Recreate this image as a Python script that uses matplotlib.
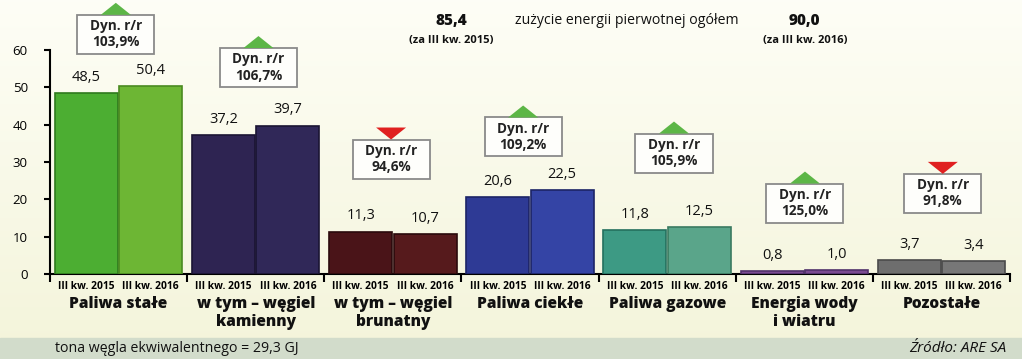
import matplotlib
matplotlib.use("Agg")
import matplotlib.pyplot as plt
import numpy as np
from matplotlib.patches import Rectangle, Polygon

plt.rcParams["font.family"] = ["Open Sans", "DejaVu Sans"]

categories = ["Paliwa stałe", "w tym – węgiel\nkamienny", "w tym – węgiel\nbrunatny",
              "Paliwa ciekłe", "Paliwa gazowe", "Energia wody\ni wiatru", "Pozostałe"]
periods = ["III kw. 2015", "III kw. 2016"]
v2015 = [48.5, 37.2, 11.3, 20.6, 11.8, 0.8, 3.7]
v2016 = [50.4, 39.7, 10.7, 22.5, 12.5, 1.0, 3.4]
dyn = [103.9, 106.7, 94.6, 109.2, 105.9, 125.0, 91.8]
total_2015 = 85.4
total_2016 = 90.0

colors_2015 = ["#4cae32", "#2e2452", "#4a1418", "#2e3a95", "#3d9a84", "#7a4a90", "#6e6e6e"]
colors_2016 = ["#6db634", "#302858", "#561a1c", "#3444a5", "#5aa58a", "#7a4a90", "#777777"]
edge_2015 = ["#2f7a1e", "#1a1433", "#2a0a0c", "#1c2466", "#24705e", "#50306a", "#4a4a4a"]
edge_2016 = ["#4a8a20", "#1a1433", "#2a0a0c", "#1c2466", "#3a7a60", "#50306a", "#4a4a4a"]

# box layout (data coords): x offset from group centre, y centre
box_dx = [-0.02, 0.02, -0.013, -0.05, 0.05, 0.005, 0.01]
box_y = [64.2, 55.3, 30.8, 36.7, 32.4, 19.0, 21.6]

W, H = 1022, 359
fig = plt.figure(figsize=(W / 100, H / 100), dpi=100)

# background gradient + bottom band
bg = fig.add_axes([0, 0, 1, 1], zorder=-10)
grad = np.linspace(0, 1, 256)[:, None]
top = np.array([0.995, 0.995, 0.965])
bot = np.array([0.955, 0.958, 0.855])
img = top[None, None, :] * (1 - grad[..., None]) + bot[None, None, :] * grad[..., None]
bg.imshow(img, aspect="auto", extent=[0, 1, 0, 1])
bg.add_patch(Rectangle((0, 0), 1, 21 / H, color="#d2dccb", zorder=2))
bg.set_xlim(0, 1)
bg.set_ylim(0, 1)
bg.axis("off")

ax = fig.add_axes([50 / W, (H - 274) / H, 960 / W, 224 / H])
ax.patch.set_alpha(0)

n = len(categories)
x = np.arange(n)
bw = 0.46
ax.bar(x + 0.265, v2015, width=bw, color=colors_2015, edgecolor=edge_2015, linewidth=1.2, zorder=3)
ax.bar(x + 0.735, v2016, width=bw, color=colors_2016, edgecolor=edge_2016, linewidth=1.2, zorder=3)

for i in range(n):
    ax.annotate(f"{v2015[i]:.1f}".replace(".", ","), (x[i] + 0.265, v2015[i]),
                xytext=(0, 6), textcoords="offset points", ha="center", va="bottom",
                fontsize=10.5, color="#111111")
    ax.annotate(f"{v2016[i]:.1f}".replace(".", ","), (x[i] + 0.735, v2016[i]),
                xytext=(0, 6), textcoords="offset points", ha="center", va="bottom",
                fontsize=10.5, color="#111111")

ax.set_xlim(0, n)
ax.set_ylim(0, 60)
ax.set_yticks(np.arange(0, 61, 10))
ax.tick_params(axis="y", direction="out", length=4, width=1.5, pad=12, labelsize=9.5)
ax.set_xticks(np.arange(0, n + 1))
ax.set_xticklabels([])
ax.tick_params(axis="x", which="major", direction="out", length=6, width=1.5)
ax.set_xticks(np.concatenate([x + 0.265, x + 0.735]), minor=True)
ax.set_xticklabels([periods[0]] * n + [periods[1]] * n, minor=True)
ax.tick_params(axis="x", which="minor", length=0, pad=5, labelsize=7.4)
for lab in ax.get_xticklabels(minor=True):
    lab.set_fontweight("bold")
for s in ["top", "right"]:
    ax.spines[s].set_visible(False)
ax.spines["left"].set_bounds(0, 60)
ax.spines["left"].set_linewidth(1.5)
ax.spines["bottom"].set_linewidth(1.5)

xt = ax.get_xaxis_transform()
for i, cat in enumerate(categories):
    ax.text(x[i] + 0.5, -0.1, cat, transform=xt, ha="center", va="top",
            fontsize=11.2, fontweight="heavy", linespacing=1.1, color="#111111")

# Dyn. r/r boxes
bwid = 77 / 137.14
bhgt = 39 / 3.733
tw = 30 / 137.14
th = 12 / 3.733
for i in range(n):
    cx = x[i] + 0.5 + box_dx[i]
    cy = box_y[i]
    ax.add_patch(Rectangle((cx - bwid / 2, cy - bhgt / 2), bwid, bhgt, facecolor="#fefefb",
                           edgecolor="#8a8a8a", linewidth=1.3, clip_on=False, zorder=5))
    ax.text(cx, cy, "Dyn. r/r\n" + f"{dyn[i]:.1f}%".replace(".", ","), ha="center", va="center",
            fontsize=9.8, fontweight="bold", linespacing=1.2, color="#222222", zorder=6, clip_on=False)
    btop = cy + bhgt / 2
    if dyn[i] >= 100:
        tri = [(cx - tw / 2, btop), (cx + tw / 2, btop), (cx, btop + th)]
        col = "#5cb646"
    else:
        tri = [(cx - tw / 2, btop + th), (cx + tw / 2, btop + th), (cx, btop)]
        col = "#e02020"
    ax.add_patch(Polygon(tri, closed=True, facecolor=col, edgecolor="none", clip_on=False, zorder=5))

# header
fig.text(451 / W, 1 - 21 / H, f"{total_2015:.1f}".replace(".", ","), ha="center", va="center",
         fontsize=11, fontweight="heavy", color="#111111")
fig.text(451 / W, 1 - 40 / H, "(za III kw. 2015)", ha="center", va="center",
         fontsize=8, fontweight="bold", color="#111111")
fig.text(627 / W, 1 - 21 / H, "zużycie energii pierwotnej ogółem", ha="center", va="center",
         fontsize=10.2, color="#111111")
fig.text(804 / W, 1 - 21 / H, f"{total_2016:.1f}".replace(".", ","), ha="center", va="center",
         fontsize=11, fontweight="heavy", color="#111111")
fig.text(805 / W, 1 - 40 / H, "(za III kw. 2016)", ha="center", va="center",
         fontsize=8, fontweight="bold", color="#111111")

# footer
fig.text(55 / W, 1 - 348 / H, "tona węgla ekwiwalentnego = 29,3 GJ", ha="left", va="center",
         fontsize=10.2, color="#111111")
fig.text(1006 / W, 1 - 348 / H, "Źródło: ARE SA", ha="right", va="center",
         fontsize=11, style="italic", color="#111111")

fig.savefig("out.png", dpi=100)
